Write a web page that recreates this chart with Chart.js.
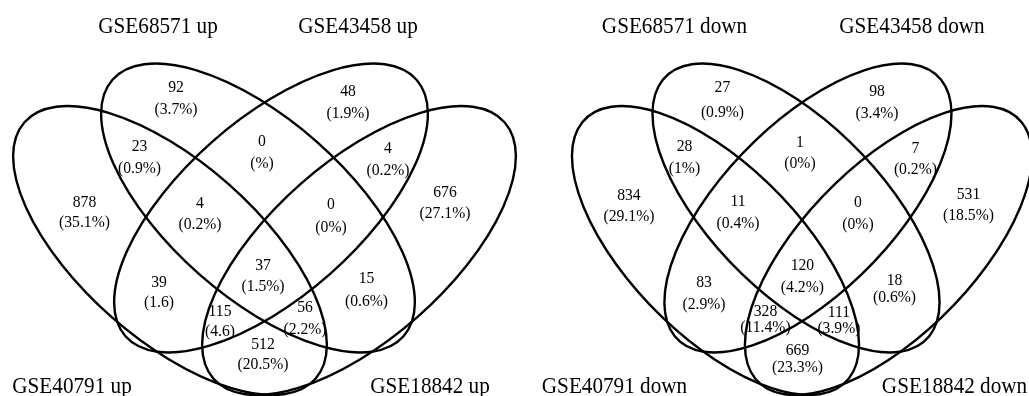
<!DOCTYPE html>
<html><head><meta charset="utf-8">
<script src="https://cdn.jsdelivr.net/npm/chart.js@4.4.1/dist/chart.umd.min.js"></script>
<style>
html,body{margin:0;padding:0;background:#fff;}
#wrap{position:relative;width:1029px;height:396px;overflow:hidden;background:#fff;}
canvas{position:absolute;top:0;}
#c1{left:0}
#c2{left:540px}
</style></head><body>
<div id="wrap"><canvas id="c1" width="540" height="396"></canvas><canvas id="c2" width="489" height="396"></canvas></div>
<script>
// ---- data ----
const regions = ["68571 only","43458 only","68571&40791","68571&43458","43458&18842","40791 only",
  "68571&43458&40791","68571&43458&18842","18842 only","all four","40791&43458","68571&18842",
  "40791&43458&18842","40791&68571&18842","40791&18842"];
const upCounts = [92,48,23,0,4,878,4,0,676,37,39,15,115,56,512];
const upPercents = ["(3.7%)","(1.9%)","(0.9%)","(%)","(0.2%)","(35.1%)","(0.2%)","(0%)","(27.1%)","(1.5%)","(1.6)","(0.6%)","(4.6)","(2.2%)","(20.5%)"];
const downCounts = [27,98,28,1,7,834,11,0,531,120,83,18,328,111,669];
const downPercents = ["(0.9%)","(3.4%)","(1%)","(0%)","(0.2%)","(29.1%)","(0.4%)","(0%)","(18.5%)","(4.2%)","(2.9%)","(0.6%)","(11.4%)","(3.9%)","(23.3%)"];
const upSets = ["GSE68571 up","GSE43458 up","GSE40791 up","GSE18842 up"];
const downSets = ["GSE68571 down","GSE43458 down","GSE40791 down","GSE18842 down"];

// ---- layout (diagram units) ----
const ellipseCX = [258, 271, 170, 359];
const ellipseCY = [208, 208, 250.5, 250.5];
const ellipseRot = [41.4, -41.4, 41.4, -41.4];
const ellipseA = 194, ellipseB = 88.6;

const upLabelX = [176,348,139.5,262,388,84.5,200,331,445,263,159,366.5,220,305,263];
const upNumY   = [87.5,91,146,141,148,202.5,203,204,192.5,265,282,278.5,311,307.5,344.5];
const upPctY   = [109,113,168,163,170,222.5,224.5,227,213.5,286,302.5,301,331.5,329,364.5];
const downLabelX = [177.6,346.5,136.1,262.3,388.5,75.4,194.6,325.7,446.5,265,157.4,365.6,224.6,304.9,259.6];
const downNumY   = [87.5,91,146,142.5,148,195,201,202,194,265,282,280,311,312,350];
const downPctY   = [112,113,168,163,169.5,216.5,223.5,224.5,215.5,287.5,304.5,297,327,328.5,367];
const upTitleX = [158,358,72,430];
const downTitleX = [125.2,384.7,59.6,431.2];
const titleY = [33,33,393,393];

const FONT = '"Liberation Serif","Times New Roman",serif';

const vennPlugin = {
  id: 'venn',
  afterDatasetsDraw(chart) {
    const ctx = chart.ctx, xs = chart.scales.x, ys = chart.scales.y;
    const sx = xs.getPixelForValue(1) - xs.getPixelForValue(0);
    const sy = ys.getPixelForValue(1) - ys.getPixelForValue(0);
    ctx.save();
    ctx.strokeStyle = '#000';
    ctx.lineWidth = 2.4;
    for (let i = 0; i < ellipseCX.length; i++) {
      ctx.save();
      ctx.translate(xs.getPixelForValue(ellipseCX[i]), ys.getPixelForValue(ellipseCY[i]));
      ctx.scale(sx, sy);
      ctx.rotate(ellipseRot[i] * Math.PI / 180);
      ctx.beginPath();
      ctx.ellipse(0, 0, ellipseA, ellipseB, 0, 0, 2 * Math.PI);
      ctx.restore();
      ctx.stroke();
    }
    ctx.fillStyle = '#000';
    ctx.textAlign = 'center';
    chart.data.datasets.forEach((ds, di) => {
      const meta = chart.getDatasetMeta(di);
      ctx.font = ds.fontSize + 'px ' + FONT;
      ctx.textBaseline = ds.baseline;
      meta.data.forEach((pt, j) => {
        ctx.save();
        ctx.translate(pt.x, pt.y);
        ctx.scale(1, 1.1);
        ctx.fillText(String(ds.texts[j]), 0, 0);
        ctx.restore();
      });
    });
    ctx.restore();
  }
};

function makeChart(id, xmin, xmax, counts, pcts, labelX, numY, pctY, sets, titleX) {
  return new Chart(document.getElementById(id), {
    type: 'scatter',
    data: {
      datasets: [
        { label: 'counts', texts: counts, fontSize: 15.7, baseline: 'middle',
          data: counts.map((c, i) => ({ x: labelX[i], y: numY[i] })), pointRadius: 0 },
        { label: 'percent', texts: pcts, fontSize: 15.7, baseline: 'middle',
          data: pcts.map((p, i) => ({ x: labelX[i], y: pctY[i] })), pointRadius: 0 },
        { label: 'sets', texts: sets, fontSize: 21.2, baseline: 'alphabetic',
          data: sets.map((s, i) => ({ x: titleX[i], y: titleY[i] })), pointRadius: 0 }
      ]
    },
    options: {
      responsive: false, animation: false, events: [],
      layout: { padding: 0 },
      plugins: { legend: { display: false }, tooltip: { enabled: false }, title: { display: false } },
      scales: {
        x: { type: 'linear', min: xmin, max: xmax, display: false },
        y: { type: 'linear', min: 0, max: 396, reverse: true, display: false }
      }
    },
    plugins: [vennPlugin]
  });
}

makeChart('c1', 0, 540, upCounts, upPercents, upLabelX, upNumY, upPctY, upSets, upTitleX);
makeChart('c2', -21.8, 512.6, downCounts, downPercents, downLabelX, downNumY, downPctY, downSets, downTitleX);
</script>
</body></html>
